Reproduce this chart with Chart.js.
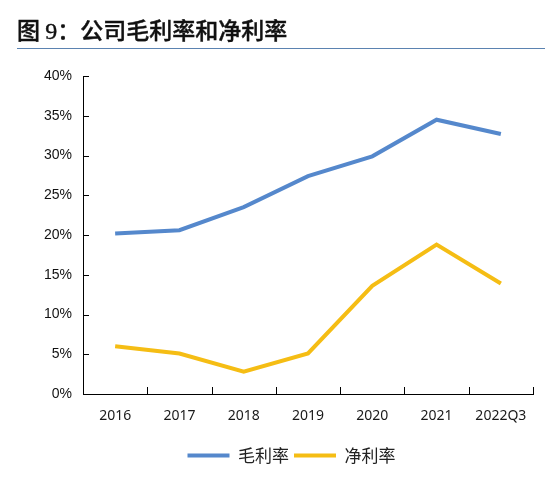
<!DOCTYPE html>
<html>
<head>
<meta charset="utf-8">
<script src="https://cdn.jsdelivr.net/npm/chart.js@4/dist/chart.umd.min.js"></script>
<style>
  html, body { margin: 0; padding: 0; background: #fff; }
  #wrap { position: relative; width: 545px; height: 499px; overflow: hidden; }
  #title { position: absolute; left: 17px; top: 14px; font-family: "Noto Sans CJK SC", sans-serif; font-size: 23px; font-weight: 500; color: #111; -webkit-text-stroke: 0.4px #111; white-space: nowrap; line-height: 30px; }
  #title .num { font-family: "Liberation Serif", serif; font-weight: normal; font-size: 24px; }
  #rule { position: absolute; left: 17px; right: 0; top: 48px; height: 0; border-top: 1.5px solid #5b83b1; }
  #c { position: absolute; left: 0; top: 0; }
</style>
</head>
<body>
<div id="wrap">
  <canvas id="c" width="545" height="499"></canvas>
  <div id="title">图 <span class="num">9</span>：公司毛利率和净利率</div>
  <div id="rule"></div>
</div>
<script>
const categories = ['2016', '2017', '2018', '2019', '2020', '2021', '2022Q3'];
const grossMargin = [20.2, 20.6, 23.5, 27.4, 29.9, 34.5, 32.7];
const netMargin = [6.0, 5.1, 2.8, 5.1, 13.6, 18.8, 13.9];
const seriesNames = ['毛利率', '净利率'];
const yTicks = [0, 5, 10, 15, 20, 25, 30, 35, 40];

const innerTicks = {
  id: 'innerTicks',
  afterLayout(chart) {
    if (chart.legend) { chart.legend.left = 50; }
  },
  afterDraw(chart) {
    const ctx = chart.ctx;
    const xs = chart.scales.x, ys = chart.scales.y;
    const ca = chart.chartArea;
    ctx.save();
    ctx.strokeStyle = '#000';
    ctx.lineWidth = 1;
    ctx.beginPath();
    yTicks.forEach(v => {
      const y = Math.round(ys.getPixelForValue(v)) + 0.5;
      ctx.moveTo(ca.left, y);
      ctx.lineTo(ca.left + 6, y);
    });
    for (let i = 0; i <= categories.length; i++) {
      const x = Math.round(xs.getPixelForValue(i - 0.5)) + 0.5;
      ctx.moveTo(x, ca.bottom);
      ctx.lineTo(x, ca.bottom - 7);
    }
    ctx.stroke();
    ctx.restore();
  }
};

new Chart(document.getElementById('c'), {
  type: 'line',
  data: {
    labels: categories,
    datasets: [
      { label: seriesNames[0], data: grossMargin, borderColor: '#5588cc', backgroundColor: '#5588cc', borderWidth: 4, pointRadius: 0, tension: 0 },
      { label: seriesNames[1], data: netMargin, borderColor: '#f5bd14', backgroundColor: '#f5bd14', borderWidth: 4, pointRadius: 0, tension: 0 }
    ]
  },
  options: {
    responsive: false,
    animation: false,
    devicePixelRatio: 1,
    layout: { padding: { top: 76, left: 0, right: 12, bottom: 25 } },
    plugins: {
      title: { display: false },
      tooltip: { enabled: false },
      legend: {
        position: 'bottom',
        labels: {
          boxWidth: 42, boxHeight: 4, padding: 5,
          color: '#222',
          font: { family: '"Noto Sans CJK SC", sans-serif', size: 17 },
          generateLabels(chart) {
            return Chart.defaults.plugins.legend.labels.generateLabels(chart).map(l => Object.assign(l, { lineWidth: 0 }));
          }
        }
      }
    },
    scales: {
      x: {
        type: 'category',
        offset: true,
        grid: { display: true, drawOnChartArea: false, drawTicks: false, offset: true },
        border: { display: true, color: '#000', width: 1 },
        ticks: { color: '#1a1a1a', padding: 14, maxRotation: 0, autoSkip: false, font: { family: '"Noto Sans", sans-serif', size: 14 } },
        afterFit(s) { s.height = 48; }
      },
      y: {
        min: 0, max: 40,
        afterBuildTicks(s) { s.ticks = yTicks.map(v => ({ value: v })); },
        grid: { display: true, drawOnChartArea: false, drawTicks: false },
        border: { display: true, color: '#000', width: 1 },
        ticks: { color: '#111', padding: 11, callback: v => v + '%', font: { family: '"Liberation Sans", Arial, sans-serif', size: 14 } },
        afterFit(s) { s.width = 83; }
      }
    }
  },
  plugins: [innerTicks]
});
</script>
</body>
</html>
